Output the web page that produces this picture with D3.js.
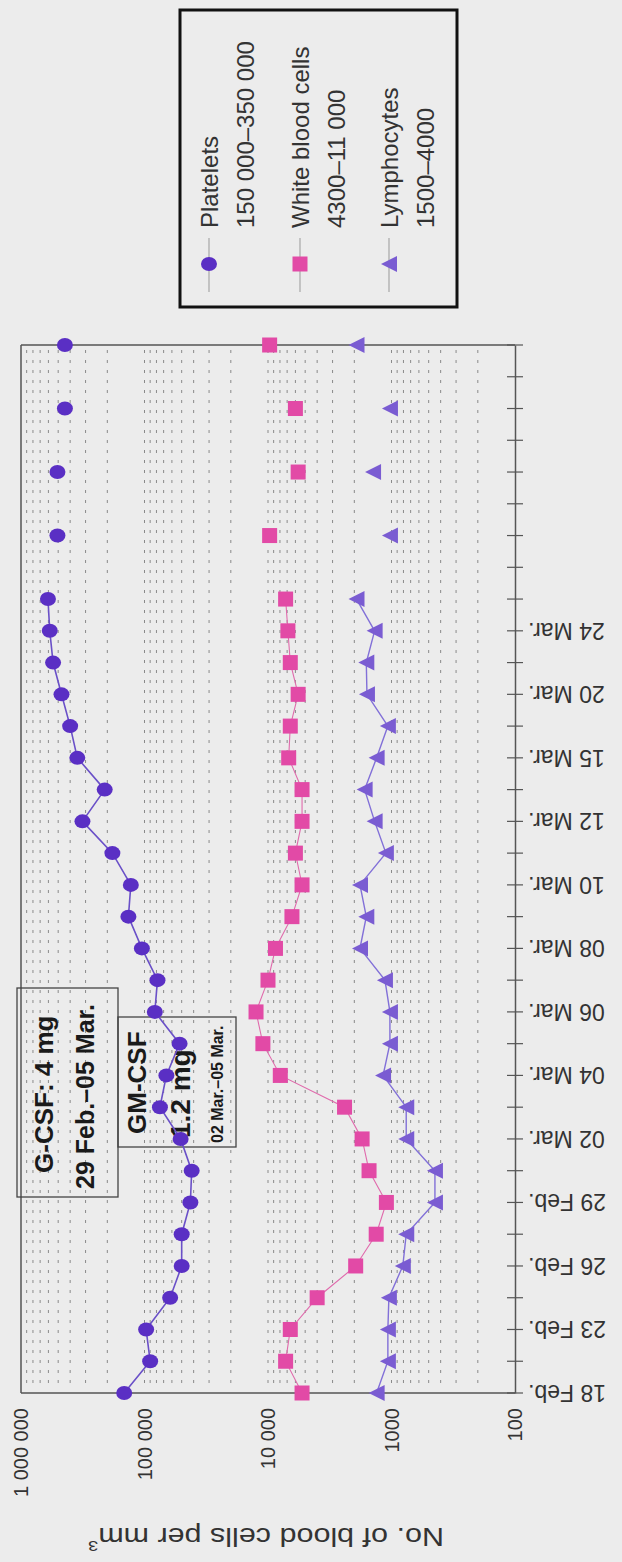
<!DOCTYPE html>
<html lang="en">
<meta charset="UTF-8">
<title>Blood cells</title>
<script src="https://d3js.org/d3.v7.min.js"></script>
<style>
  body { margin: 0; background: #ececec; }
  svg { display: block; font-family: "Liberation Sans", Arial, sans-serif; }
</style>
<body>
<svg width="622" height="1562"></svg>

<script>
// one entry per category on the date axis (only every second one is labelled)
var dayLabels = ["18 Feb.", "", "23 Feb.", "", "26 Feb.", "", "29 Feb.", "", "02 Mar.", "", "04 Mar.", "",
  "06 Mar.", "", "08 Mar.", "", "10 Mar.", "", "12 Mar.", "", "15 Mar.", "", "20 Mar.", "", "24 Mar.",
  "", "", "", "", "", "", "", "", ""];

var platelets = [146000, 90000, 97000, 62000, 50000, 50000, 42500, 41500, 51000, 75000, 66500, 52000,
  82500, 78500, 105000, 135000, 129000, 182000, 318000, 210000, 350000, 400000, 470000, 550000, 585000,
  605000, null, 507000, null, 507000, null, 441000, null, 441000];

var whiteCells = [5300, 7200, 6600, 4000, 1950, 1330, 1100, 1520, 1730, 2400, 7950, 11000,
  12500, 10000, 8700, 6400, 5300, 6000, 5300, 5300, 6800, 6600, 5700, 6600, 6900,
  7200, null, 9700, null, 5700, null, 6000, null, 9700];

var lymphocytes = [1320, 1070, 1070, 1050, 810, 760, 445, 445, 760, 760, 1170, 1030,
  1030, 1130, 1800, 1600, 1800, 1110, 1370, 1650, 1320, 1070, 1580, 1600, 1370,
  1920, null, 1030, null, 1410, null, 1030, null, 1920];

var decadeTicks = [1000000, 100000, 10000, 1000, 100];
var decadeLabels = ["1 000 000", "100 000", "10 000", "1000", "100"];

var legendNames = ["Platelets", "White blood cells", "Lymphocytes"];
var legendRanges = ["150 000\u2013350 000", "4300\u201311 000", "1500\u20134000"];

var svg = d3.select("svg");
svg.append("rect").attr("width", 622).attr("height", 1562).attr("fill", "#ececec");

// the chart is printed turned a quarter: values run left (high) to right (low), dates bottom to top
var x = d3.scaleLog().domain([1000000, 100]).range([21, 515]);
var y = d3.scalePoint().domain(d3.range(dayLabels.length)).range([1393, 345]);

// dotted grid at every 1..9 x 10^k
var gridVals = [];
for (var k = 2; k < 6; k++) {
  for (var m = 1; m < 10; m++) {
    if (k == 2 && m == 1) continue;
    gridVals.push(m * Math.pow(10, k));
  }
}
svg.append("g").selectAll("line")
  .data(gridVals)
  .enter().append("line")
    .attr("x1", function(d) { return x(d); })
    .attr("x2", function(d) { return x(d); })
    .attr("y1", 350)
    .attr("y2", 1390)
    .attr("stroke", "#8a8a8a")
    .attr("stroke-width", 1)
    .attr("stroke-dasharray", "3,7");

// frame
var frame = svg.append("g").attr("stroke", "#555").attr("stroke-width", 1.5);
frame.append("line").attr("x1", 21).attr("x2", 21).attr("y1", 345).attr("y2", 1393);
frame.append("line").attr("x1", 21).attr("x2", 515).attr("y1", 345).attr("y2", 345);
frame.append("line").attr("x1", 21).attr("x2", 515).attr("y1", 1393).attr("y2", 1393);

// date axis on the right
var dateAxis = d3.axisRight(y).tickSize(0).tickFormat("");
svg.append("g")
  .attr("transform", "translate(515,0)")
  .call(dateAxis)
  .call(function(g) { g.select(".domain").attr("stroke", "#555").attr("stroke-width", 1.5); });

svg.append("g").selectAll("line")
  .data(d3.range(dayLabels.length))
  .enter().append("line")
    .attr("x1", 507).attr("x2", 523)
    .attr("y1", function(d) { return y(d); })
    .attr("y2", function(d) { return y(d); })
    .attr("stroke", "#555")
    .attr("stroke-width", 1.2);

svg.append("g").selectAll("text")
  .data(d3.range(dayLabels.length).filter(function(i) { return dayLabels[i] != ""; }))
  .enter().append("text")
    .attr("transform", function(i) { return "translate(528," + y(i) + ") rotate(180)"; })
    .attr("text-anchor", "end")
    .attr("dominant-baseline", "central")
    .attr("font-size", 23)
    .attr("fill", "#333")
    .text(function(i) { return dayLabels[i]; });

// value labels along the bottom
svg.append("g").selectAll("text")
  .data(decadeTicks)
  .enter().append("text")
    .attr("transform", function(d) { return "translate(" + x(d) + ",1408) rotate(-90)"; })
    .attr("text-anchor", "end")
    .attr("dominant-baseline", "central")
    .attr("font-size", 20)
    .attr("fill", "#333")
    .text(function(d, i) { return decadeLabels[i]; });

var title = svg.append("text")
  .attr("transform", "translate(266,1537) rotate(180) scale(1.22,1)")
  .attr("text-anchor", "middle")
  .attr("dominant-baseline", "central")
  .attr("font-size", 25)
  .attr("fill", "#333");
title.append("tspan").text("No. of blood cells per mm");
title.append("tspan").attr("baseline-shift", "super").attr("font-size", 15).text("3");

// treatment boxes
var notes = svg.append("g");
notes.append("rect").attr("x", 17).attr("y", 988).attr("width", 101).attr("height", 209)
  .attr("fill", "none").attr("stroke", "#444").attr("stroke-width", 1.3);
notes.append("rect").attr("x", 118).attr("y", 1017).attr("width", 118).attr("height", 130)
  .attr("fill", "none").attr("stroke", "#444").attr("stroke-width", 1.3);

var noteText = [
  { t: "G-CSF: 4 mg", cx: 44, y0: 1173, fs: 26 },
  { t: "29 Feb.\u201305 Mar.", cx: 85, y0: 1189, fs: 25 },
  { t: "GM-CSF", cx: 137, y0: 1134, fs: 26 },
  { t: "1.2 mg", cx: 180, y0: 1138, fs: 28 },
  { t: "02 Mar.\u201305 Mar.", cx: 217, y0: 1143, fs: 16 }
];
notes.selectAll("text")
  .data(noteText)
  .enter().append("text")
    .attr("transform", function(d) { return "translate(" + d.cx + "," + d.y0 + ") rotate(-90)"; })
    .attr("dominant-baseline", "central")
    .attr("font-size", function(d) { return d.fs; })
    .attr("font-weight", "bold")
    .attr("fill", "#1a1a1a")
    .text(function(d) { return d.t; });

// series
var series = [
  { name: "plt", values: platelets, line: "#6a50c8", lw: 1.6, fill: "#5a2fc4" },
  { name: "wbc", values: whiteCells, line: "#e06aac", lw: 1.1, fill: "#e24aa6" },
  { name: "lym", values: lymphocytes, line: "#8270d8", lw: 1.4, fill: "#7a5cd2" }
];

function marker(sel, s) {
  if (s.name == "plt") {
    sel.append("ellipse").attr("rx", 8).attr("ry", 7).attr("fill", s.fill);
  } else if (s.name == "wbc") {
    sel.append("rect").attr("x", -7.5).attr("y", -7.5).attr("width", 15).attr("height", 15).attr("fill", s.fill);
  } else {
    sel.append("path").attr("d", "M-8,0L8,-8L8,8Z").attr("fill", s.fill);
  }
}

var line = d3.line()
  .defined(function(d) { return d != null; })
  .x(function(d) { return x(d); })
  .y(function(d, i) { return y(i); });

series.forEach(function(s) {
  svg.append("path")
    .attr("d", line(s.values))
    .attr("fill", "none")
    .attr("stroke", s.line)
    .attr("stroke-width", s.lw);

  var pts = s.values.map(function(v, i) { return { v: v, i: i }; })
    .filter(function(d) { return d.v != null; });

  svg.append("g").selectAll("g")
    .data(pts)
    .enter().append("g")
      .attr("transform", function(d) { return "translate(" + x(d.v) + "," + y(d.i) + ")"; })
      .each(function() { marker(d3.select(this), s); });
});

// legend
var legend = svg.append("g");
legend.append("rect").attr("x", 180).attr("y", 10).attr("width", 277).attr("height", 297)
  .attr("fill", "none").attr("stroke", "#111").attr("stroke-width", 3);

var legendX = [209, 300, 389];
series.forEach(function(s, i) {
  var g = legend.append("g").attr("transform", "translate(" + legendX[i] + ",0)");
  g.append("line").attr("x1", 0).attr("x2", 0).attr("y1", 238).attr("y2", 292)
    .attr("stroke", "#999").attr("stroke-width", 1);
  marker(g.append("g").attr("transform", "translate(0,264)"), s);
  g.append("text")
    .attr("transform", "translate(0,228) rotate(-90)")
    .attr("dominant-baseline", "central")
    .attr("font-size", 24)
    .attr("fill", "#333")
    .text(legendNames[i]);
  g.append("text")
    .attr("transform", "translate(36,228) rotate(-90)")
    .attr("dominant-baseline", "central")
    .attr("font-size", 24)
    .attr("fill", "#333")
    .text(legendRanges[i]);
});
</script>
</body>
</html>
